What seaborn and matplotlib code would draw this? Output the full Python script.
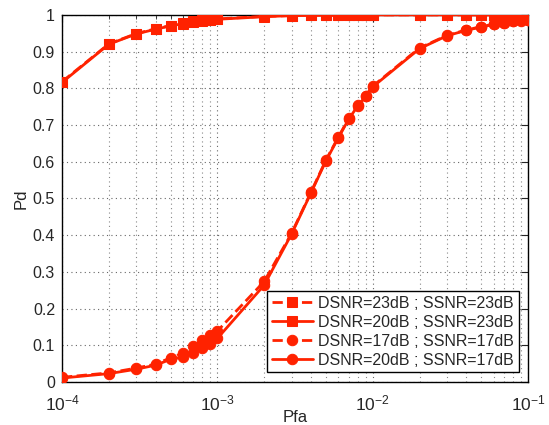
import numpy as np
import pandas as pd
import matplotlib
matplotlib.use("Agg")
import matplotlib.pyplot as plt
import seaborn as sns
from matplotlib.ticker import LogLocator, NullFormatter

pfa = [1e-4, 2e-4, 3e-4, 4e-4, 5e-4, 6e-4, 7e-4, 8e-4, 9e-4,
       1e-3, 2e-3, 3e-3, 4e-3, 5e-3, 6e-3, 7e-3, 8e-3, 9e-3,
       1e-2, 2e-2, 3e-2, 4e-2, 5e-2, 6e-2, 7e-2, 8e-2, 9e-2, 1e-1]

pd_23_23 = [0.818, 0.921, 0.949, 0.962, 0.971, 0.977, 0.982, 0.985, 0.987,
            0.989, 0.996, 0.998, 0.999, 0.999, 0.999, 0.999, 1.0, 1.0,
            1.0, 1.0, 1.0, 1.0, 1.0, 1.0, 1.0, 1.0, 1.0, 1.0]
pd_20_23 = [0.816, 0.920, 0.948, 0.961, 0.970, 0.976, 0.981, 0.984, 0.986,
            0.988, 0.995, 0.998, 0.999, 0.999, 0.999, 0.999, 0.999, 1.0,
            1.0, 1.0, 1.0, 1.0, 1.0, 1.0, 1.0, 1.0, 1.0, 1.0]
pd_17_17 = [0.013, 0.025, 0.038, 0.049, 0.066, 0.079, 0.097, 0.114, 0.128,
            0.139, 0.274, 0.405, 0.517, 0.605, 0.667, 0.718, 0.754, 0.780,
            0.806, 0.910, 0.944, 0.959, 0.968, 0.975, 0.979, 0.983, 0.985, 0.986]
pd_20_17 = [0.011, 0.023, 0.035, 0.046, 0.062, 0.068, 0.079, 0.092, 0.105,
            0.119, 0.264, 0.403, 0.515, 0.603, 0.665, 0.716, 0.752, 0.778,
            0.804, 0.908, 0.943, 0.958, 0.967, 0.974, 0.978, 0.982, 0.984, 0.985]

labels = ["DSNR=23dB ; SSNR=23dB", "DSNR=20dB ; SSNR=23dB",
          "DSNR=17dB ; SSNR=17dB", "DSNR=20dB ; SSNR=17dB"]

red = "#ff2200"
sns.set_style("white")
plt.rcParams['font.family'] = ['Liberation Sans', 'DejaVu Sans']
plt.rcParams['mathtext.fontset'] = 'custom'
plt.rcParams['mathtext.rm'] = 'Liberation Sans'
plt.rcParams['mathtext.it'] = 'Liberation Sans'
plt.rcParams['mathtext.default'] = 'regular'

fig = plt.figure(figsize=(5.49, 4.25), dpi=100)
ax = fig.add_axes([0.113, 0.101, 0.849, 0.864])

series = [(pd_23_23, "--", "s"), (pd_20_23, "-", "s"),
          (pd_17_17, "--", "o"), (pd_20_17, "-", "o")]
for (vals, ls, mk), lab in zip(series, labels):
    df = pd.DataFrame({"Pfa": pfa, "Pd": vals})
    sns.lineplot(data=df, x="Pfa", y="Pd", ax=ax, color=red, linestyle=ls,
                 marker=mk, markersize=7.5, markeredgecolor=red, linewidth=2,
                 label=lab, zorder=3)

ax.set_xscale("log")
ax.set_xlim(1e-4, 1e-1)
ax.set_ylim(0, 1)
ax.set_yticks(np.arange(0, 1.01, 0.1))
ax.set_yticklabels(["0", "0.1", "0.2", "0.3", "0.4", "0.5", "0.6", "0.7", "0.8", "0.9", "1"])
ax.xaxis.set_minor_locator(LogLocator(base=10, subs=np.arange(2, 10)))
ax.xaxis.set_minor_formatter(NullFormatter())
ax.grid(True, which="major", linestyle=(0, (1, 3)), color="#666666", linewidth=0.8)
ax.grid(True, which="minor", axis="x", linestyle=(0, (1, 3)), color="#888888", linewidth=0.8)
ax.tick_params(which="both", direction="in", top=True, right=True, labelsize=11.5)
ax.tick_params(axis="x", which="major", labelsize=12.5, pad=8)
ax.tick_params(axis="y", which="major", pad=5)
ax.tick_params(which="major", length=5)
ax.tick_params(which="minor", length=3)
for sp in ax.spines.values():
    sp.set_color("black")
    sp.set_linewidth(1)
ax.set_xlabel("Pfa", fontsize=12)
ax.set_ylabel("Pd", fontsize=12, labelpad=3)
ax.xaxis.set_label_coords(0.5, -0.076)

leg = ax.legend(loc="lower right", fontsize=11.5, frameon=True, fancybox=False,
                edgecolor="black", framealpha=1, handlelength=2.6,
                borderpad=0.3, labelspacing=0.25, handletextpad=0.3,
                borderaxespad=0.6)
leg.get_frame().set_linewidth(1)

fig.savefig("out.png", dpi=100)
